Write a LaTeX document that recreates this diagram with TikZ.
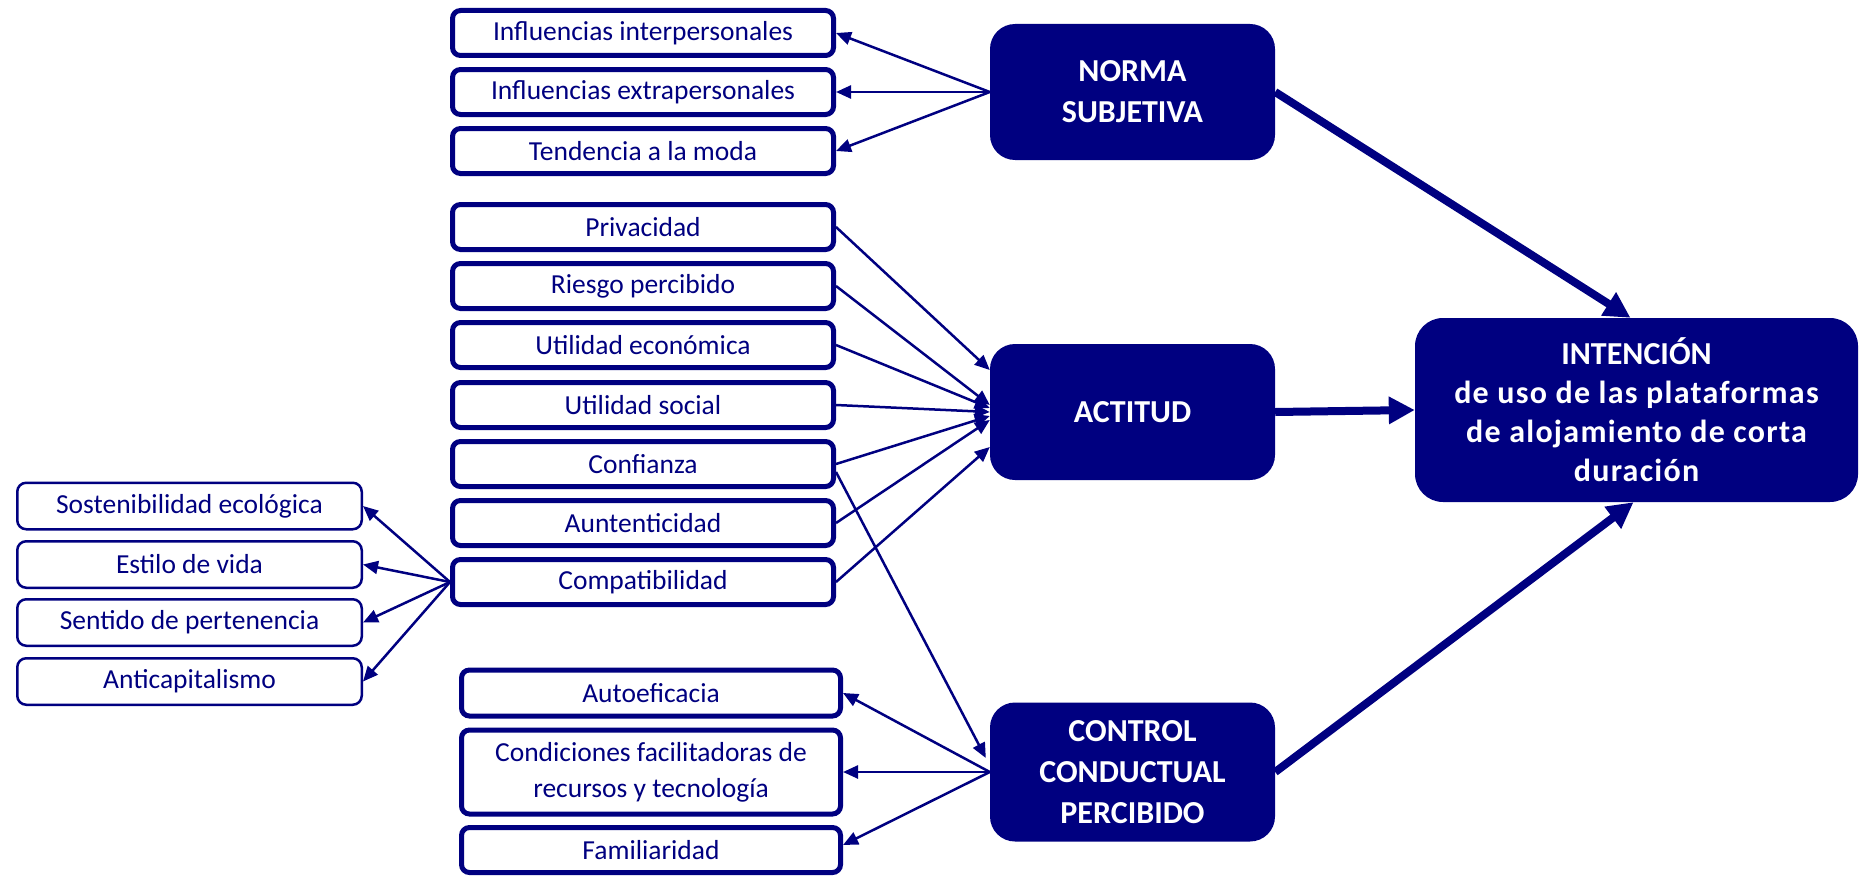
\documentclass[tikz,border=0pt]{standalone}
\usepackage{fontspec}
\setmainfont{Carlito}
\usetikzlibrary{arrows.meta}
\definecolor{mynavy}{RGB}{0,0,128}
\begin{document}
\begin{tikzpicture}[x=1pt,y=-1pt,
  sbox/.style={draw=mynavy, line width=5pt, rounded corners=8pt, fill=white, text=mynavy,
    minimum width=381pt, minimum height=45pt, inner sep=0pt, align=center,
    font=\fontsize{27.5}{36}\selectfont},
  lbox/.style={draw=mynavy, line width=2.5pt, rounded corners=9pt, fill=white, text=mynavy,
    minimum width=344.5pt, minimum height=46.5pt, inner sep=0pt, align=center,
    font=\fontsize{27.5}{36}\selectfont},
  bigbox/.style={fill=mynavy, text=white, rounded corners=25pt, minimum width=285pt,
    minimum height=136pt, inner sep=0pt, align=center,
    font=\bfseries\fontsize{32}{41}\selectfont},
  smallarrow/.style={draw=mynavy, line width=2.5pt, -{Triangle[length=15pt,width=13pt]}},
  bigarrow/.style={draw=mynavy, line width=8pt, -{Triangle[length=26pt,width=26pt]}}
]
\useasboundingbox (0,0) rectangle (1859,875);

% middle column
\node[sbox] (inter)  at (643,33)  {Influencias interpersonales};
\node[sbox] (extra)  at (643,92)  {Influencias extrapersonales};
\node[sbox] (moda)   at (643,151) {Tendencia a la moda};
\node[sbox] (priv)   at (643,227) {Privacidad};
\node[sbox] (riesgo) at (643,286) {Riesgo percibido};
\node[sbox] (eco)    at (643,345) {Utilidad económica};
\node[sbox] (social) at (643,405) {Utilidad social};
\node[sbox] (conf)   at (643,464) {Confianza};
\node[sbox] (aunt)   at (643,523) {Auntenticidad};
\node[sbox] (compat) at (643,582) {Compatibilidad};
\node[sbox, minimum width=379pt, minimum height=46pt] (auto) at (651,693) {Autoeficacia};
\node[sbox, minimum width=379pt, minimum height=84pt] (cond) at (651,772) {Condiciones facilitadoras de\\recursos y tecnología};
\node[sbox, minimum width=379pt, minimum height=45pt] (fam) at (651,850) {Familiaridad};

% left column
\node[lbox] (sost)    at (189.5,506)   {Sostenibilidad ecológica};
\node[lbox] (estilo)  at (189.5,564.5) {Estilo de vida};
\node[lbox] (sentido) at (189.5,622.5) {Sentido de pertenencia};
\node[lbox] (anti)    at (189.5,681.5) {Anticapitalismo};

% big boxes
\node[bigbox] (norma)   at (1132.5,92)  {NORMA\\SUBJETIVA};
\node[bigbox] (actitud) at (1132.5,412) {ACTITUD};
\node[bigbox, minimum height=139pt] (control) at (1132.5,772) {CONTROL\\CONDUCTUAL\\PERCIBIDO};
\node[bigbox, minimum width=443pt, minimum height=184pt, rounded corners=28pt,
      font=\bfseries\fontsize{32}{39}\selectfont] (intencion) at (1636.5,410)
  {INTENCIÓN\\{\addfontfeature{LetterSpace=4}de uso de las plataformas}\\{\addfontfeature{LetterSpace=4}de alojamiento de corta}\\{\addfontfeature{LetterSpace=4}duración}};

% norma subjetiva arrows
\draw[smallarrow] (norma.west) -- (inter.east);
\draw[smallarrow] (norma.west) -- (extra.east);
\draw[smallarrow] (norma.west) -- (moda.east);

% actitud arrows
\draw[smallarrow] (priv.east)   -- ([yshift=42pt]actitud.west);
\draw[smallarrow] (riesgo.east) -- ([yshift=7pt]actitud.west);
\draw[smallarrow] (eco.east)    -- ([yshift=4pt]actitud.west);
\draw[smallarrow] (social.east) -- ([yshift=0pt]actitud.west);
\draw[smallarrow] (conf.east)   -- ([yshift=-4pt]actitud.west);
\draw[smallarrow] (aunt.east)   -- ([yshift=-8pt]actitud.west);
\draw[smallarrow] (compat.east) -- ([yshift=-35pt]actitud.west);
\draw[smallarrow] ([yshift=-8pt]conf.east) -- ([xshift=-4pt,yshift=14pt]control.west);

% compatibilidad arrows
\draw[smallarrow] (compat.west) -- (sost.east);
\draw[smallarrow] (compat.west) -- (estilo.east);
\draw[smallarrow] (compat.west) -- (sentido.east);
\draw[smallarrow] (compat.west) -- (anti.east);

% control arrows
\draw[smallarrow] (control.west) -- (auto.east);
\draw[smallarrow] (control.west) -- (cond.east);
\draw[smallarrow] (control.west) -- ([yshift=5pt]fam.east);

% to intencion
\draw[bigarrow] (norma.east) -- ([xshift=-6pt]intencion.north);
\draw[bigarrow] (actitud.east) -- (intencion.west);
\draw[bigarrow] (control.east) -- ([xshift=-3pt]intencion.south);
\end{tikzpicture}
\end{document}
